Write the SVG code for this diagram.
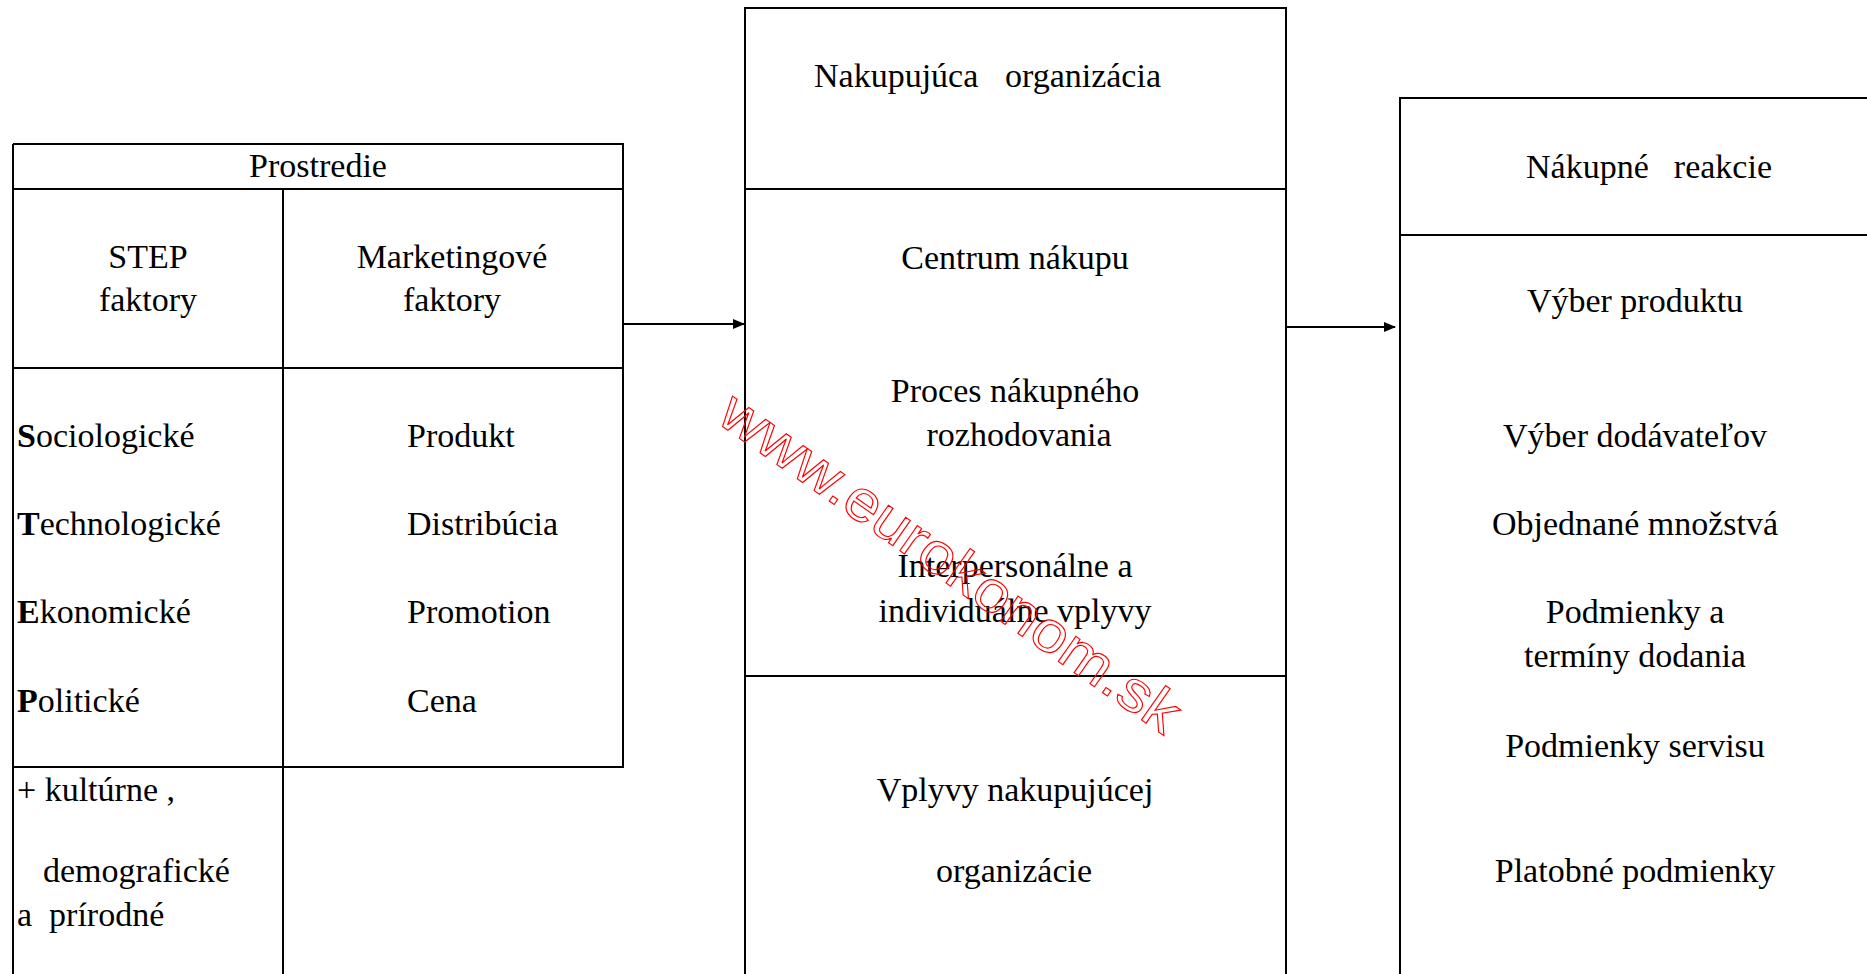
<svg xmlns="http://www.w3.org/2000/svg" width="1867" height="974" viewBox="0 0 1867 974">
  <style>
    .ln { stroke: #000; stroke-width: 2; fill: none; }
    .t { font-family: "Liberation Serif", "Times New Roman", serif; font-size: 34px; fill: #000; white-space: pre; }
    .c { text-anchor: middle; }
    .e { text-anchor: end; }
    .b { font-weight: bold; }
    .wm { font-family: "Liberation Sans", Arial, sans-serif; font-size: 58px; fill: none; stroke: #ff0000; stroke-width: 1.1; text-anchor: middle; }
  </style>
  <defs>
    <marker id="arrow" markerWidth="12" markerHeight="10" refX="11" refY="5" orient="auto" markerUnits="userSpaceOnUse">
      <path d="M0,0 L12,5 L0,10 Z" fill="#000"/>
    </marker>
  </defs>
  <rect width="1867" height="974" fill="#fff"/>

  <!-- Environment table -->
  <g id="prostredie">
    <path class="ln" d="M13,144 H623 V767 H13 M13,144 V974 M283,189 V974 M13,189 H623 M13,368 H623"/>
    <text class="t c" x="318" y="177">Prostredie</text>
    <text class="t c" x="148" y="268">STEP</text>
    <text class="t c" x="148" y="311">faktory</text>
    <text class="t c" x="452" y="268">Marketingové</text>
    <text class="t c" x="452" y="311">faktory</text>
    <text class="t" x="17" y="447"><tspan class="b">S</tspan>ociologické</text>
    <text class="t" x="17" y="535"><tspan class="b">T</tspan>echnologické</text>
    <text class="t" x="17" y="623"><tspan class="b">E</tspan>konomické</text>
    <text class="t" x="17" y="712"><tspan class="b">P</tspan>olitické</text>
    <text class="t" x="407" y="447">Produkt</text>
    <text class="t" x="407" y="535">Distribúcia</text>
    <text class="t" x="407" y="623">Promotion</text>
    <text class="t" x="407" y="712">Cena</text>
    <text class="t" x="17" y="801">+ kultúrne ,</text>
    <text class="t" x="43" y="882">demografické</text>
    <text class="t" x="17" y="926">a  prírodné</text>
  </g>

  <!-- Buying organisation -->
  <g id="organizacia">
    <path class="ln" d="M745,974 V8 H1286 V974 M745,189 H1286 M745,676 H1286"/>
    <text class="t" x="814" y="87">Nakupujúca</text>
    <text class="t e" x="1161" y="87">organizácia</text>
    <text class="t c" x="1015" y="269">Centrum nákupu</text>
    <text class="t c" x="1015" y="402">Proces nákupného</text>
    <text class="t c" x="1019" y="446">rozhodovania</text>
    <text class="t c" x="1015" y="577">Interpersonálne a</text>
    <text class="t c" x="1015" y="622">individuálne vplyvy</text>
    <text class="t c" x="1015" y="801">Vplyvy nakupujúcej</text>
    <text class="t c" x="1014" y="882">organizácie</text>
  </g>

  <!-- Buying responses -->
  <g id="reakcie">
    <path class="ln" d="M1400,974 V98 H1867 M1400,235 H1867"/>
    <text class="t" x="1526" y="178">Nákupné</text>
    <text class="t e" x="1772" y="178">reakcie</text>
    <text class="t c" x="1635" y="312">Výber produktu</text>
    <text class="t c" x="1635" y="447">Výber dodávateľov</text>
    <text class="t c" x="1635" y="535">Objednané množstvá</text>
    <text class="t c" x="1635" y="623">Podmienky a</text>
    <text class="t c" x="1635" y="667">termíny dodania</text>
    <text class="t c" x="1635" y="757">Podmienky servisu</text>
    <text class="t c" x="1635" y="882">Platobné podmienky</text>
  </g>

  <!-- Connectors -->
  <g id="connectors">
    <line class="ln" x1="622" y1="324" x2="744" y2="324" marker-end="url(#arrow)"/>
    <line class="ln" x1="1287" y1="327" x2="1395" y2="327" marker-end="url(#arrow)"/>
  </g>

  <!-- Site watermark -->
  <g id="watermark" transform="translate(951,562) rotate(35) scale(1.09,1)">
    <text class="wm" x="0" y="20">www.eurokonom.sk</text>
  </g>
</svg>
